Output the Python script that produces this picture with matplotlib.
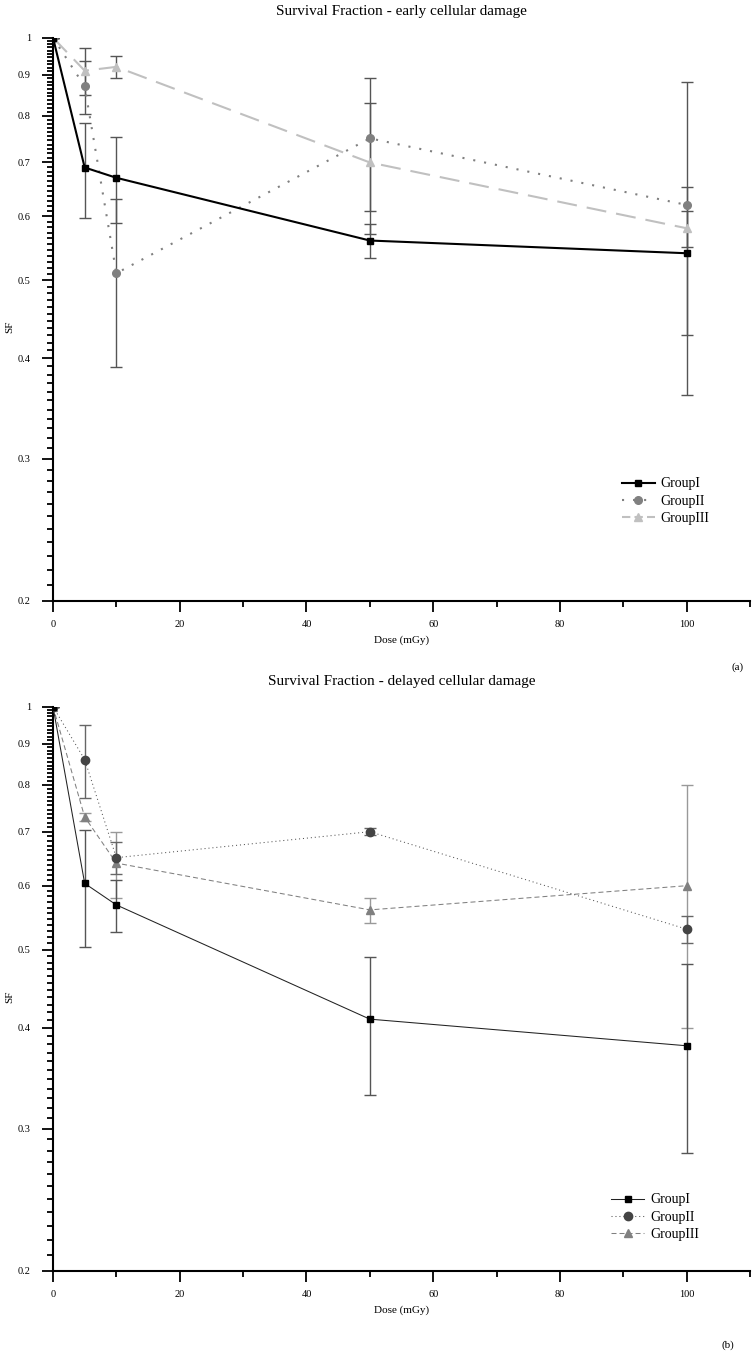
import numpy as np
import matplotlib
matplotlib.use('Agg')
import matplotlib.pyplot as plt
from matplotlib.ticker import FixedLocator, FuncFormatter
from matplotlib.lines import Line2D

plt.rcParams['font.family'] = ['Liberation Serif', 'DejaVu Serif']

dose = [0, 5, 10, 50, 100]

# (a) early cellular damage
early_g1 = [1.0, 0.69, 0.67, 0.56, 0.54]
early_g1_err = [0, 0.093, 0.082, 0.027, 0.113]
early_g2 = [1.0, 0.87, 0.51, 0.75, 0.62]
early_g2_err = [0, 0.066, 0.12, 0.14, 0.26]
early_g3 = [1.0, 0.91, 0.92, 0.70, 0.58]
early_g3_err = [0, 0.06, 0.03, 0.13, 0.03]

# (b) delayed cellular damage
late_g1 = [1.0, 0.604, 0.568, 0.41, 0.38]
late_g1_err = [0, 0.1, 0.042, 0.08, 0.1]
late_g2 = [1.0, 0.86, 0.65, 0.70, 0.53]
late_g2_err = [0, 0.089, 0.03, 0.007, 0.02]
late_g3 = [1.0, 0.73, 0.64, 0.56, 0.60]
late_g3_err = [0, 0.008, 0.06, 0.02, 0.2]

labels = ['GroupI', 'GroupII', 'GroupIII']
y_major = [0.2, 0.3, 0.4, 0.5, 0.6, 0.7, 0.8, 0.9, 1.0]

W, H = 752, 1352
fig = plt.figure(figsize=(W / 100, H / 100), dpi=100)

left = 53 / W
width = 697 / W
ax1 = fig.add_axes([left, (H - 600.7) / H, width, 563 / H])
ax2 = fig.add_axes([left, (H - 1270.7) / H, width, 564 / H])

# 10 minor ticks inside every 0.1 step
minor_y = [a + 0.1 * k / 11 for a in y_major[:-1] for k in range(1, 11)]


def style_axis(ax):
    ax.set_yscale('log')
    ax.set_xlim(0, 110)
    ax.set_ylim(0.2, 1.0)
    for s in ['top', 'right']:
        ax.spines[s].set_visible(False)
    for s in ['left', 'bottom']:
        ax.spines[s].set_linewidth(1.5)
    ax.yaxis.set_major_locator(FixedLocator(y_major))
    ax.yaxis.set_minor_locator(FixedLocator(minor_y))
    ax.yaxis.set_major_formatter(FuncFormatter(lambda v, p: '%g' % v))
    ax.yaxis.set_minor_formatter(FuncFormatter(lambda v, p: ''))
    ax.xaxis.set_major_locator(FixedLocator([0, 20, 40, 60, 80, 100]))
    ax.xaxis.set_minor_locator(FixedLocator([10, 30, 50, 70, 90, 110]))
    ax.tick_params(which='major', direction='out', length=8, width=1.3, labelsize=7.4, pad=6)
    ax.tick_params(which='minor', direction='out', length=4.5, width=1.3)
    ax.tick_params(axis='y', which='major', pad=8)


style_axis(ax1)
style_axis(ax2)

# top chart
ebar = dict(fmt='none', ecolor='#555555', elinewidth=1, capsize=4.3, capthick=1, zorder=2)
ax1.errorbar(dose, early_g3, yerr=early_g3_err, **ebar)
ax1.errorbar(dose, early_g2, yerr=early_g2_err, **ebar)
ax1.errorbar(dose, early_g1, yerr=early_g1_err, **ebar)
ax1.plot(dose, early_g3, color='#c0c0c0', lw=1.5, dashes=(9.6, 4.8), marker='^', ms=6, mec='#c0c0c0', zorder=3)
ax1.plot(dose, early_g2, color='#808080', lw=1.5, dashes=(1, 4.3), marker='o', ms=5.5, mec='#808080', zorder=4)
ax1.plot(dose, early_g1, color='black', lw=1.5, marker='s', ms=5, zorder=5)

h1 = [Line2D([], [], color='black', lw=1.5, marker='s', ms=5),
      Line2D([], [], color='#808080', lw=1.5, dashes=(1, 4.3), marker='o', ms=5.5),
      Line2D([], [], color='#c0c0c0', lw=1.5, dashes=(4, 2), marker='^', ms=6)]
ax1.legend(h1, labels, loc='upper left', bbox_to_anchor=(0.816, 0.219), frameon=False,
           borderpad=0, borderaxespad=0, handlelength=2.4, handletextpad=0.4,
           labelspacing=0.3, fontsize=10)

# bottom chart
ax2.errorbar(dose, late_g3, yerr=late_g3_err, fmt='none', ecolor='#999999', elinewidth=1,
             capsize=4.3, capthick=1, zorder=2)
ax2.errorbar(dose, late_g2, yerr=late_g2_err, fmt='none', ecolor='#666666', elinewidth=1,
             capsize=4.3, capthick=1, zorder=2)
ax2.errorbar(dose, late_g1, yerr=late_g1_err, fmt='none', ecolor='#555555', elinewidth=1,
             capsize=4.3, capthick=1, zorder=2)
ax2.plot(dose, late_g3, color='#808080', lw=0.75, dashes=(4.8, 2.9), marker='^', ms=6,
         mec='#808080', zorder=3)
ax2.plot(dose, late_g2, color='#555555', lw=0.75, dashes=(1, 2.8), marker='o', ms=6,
         mfc='#444444', mec='#444444', zorder=4)
ax2.plot(dose, late_g1, color='#222222', lw=0.75, marker='s', ms=5, mfc='black', mec='black', zorder=5)

h2 = [Line2D([], [], color='#222222', lw=0.75, marker='s', ms=5, mfc='black', mec='black'),
      Line2D([], [], color='#555555', lw=0.75, dashes=(1, 2.8), marker='o', ms=6, mfc='#444444', mec='#444444'),
      Line2D([], [], color='#808080', lw=0.75, dashes=(4.8, 2.9), marker='^', ms=6)]
ax2.legend(h2, labels, loc='upper left', bbox_to_anchor=(0.8006, 0.137), frameon=False,
           borderpad=0, borderaxespad=0, handlelength=2.4, handletextpad=0.4,
           labelspacing=0.3, fontsize=10)

# texts
cx = (53 + 697 / 2) / W
fig.text(cx, 1 - 12 / H, 'Survival Fraction - early cellular damage', ha='center', va='center', fontsize=11)
fig.text(cx, 1 - 681 / H, 'Survival Fraction - delayed cellular damage', ha='center', va='center', fontsize=11)
fig.text(cx, 1 - 640 / H, 'Dose (mGy)', ha='center', va='center', fontsize=8)
fig.text(cx, 1 - 1310 / H, 'Dose (mGy)', ha='center', va='center', fontsize=8)
fig.text(10 / W, 1 - 327 / H, 'SF', ha='center', va='center', rotation=90, fontsize=8)
fig.text(10 / W, 1 - 997 / H, 'SF', ha='center', va='center', rotation=90, fontsize=8)
fig.text(738 / W, 1 - 667 / H, '(a)', ha='center', va='center', fontsize=8)
fig.text(728 / W, 1 - 1345 / H, '(b)', ha='center', va='center', fontsize=8)

fig.savefig('out.png', dpi=100)
